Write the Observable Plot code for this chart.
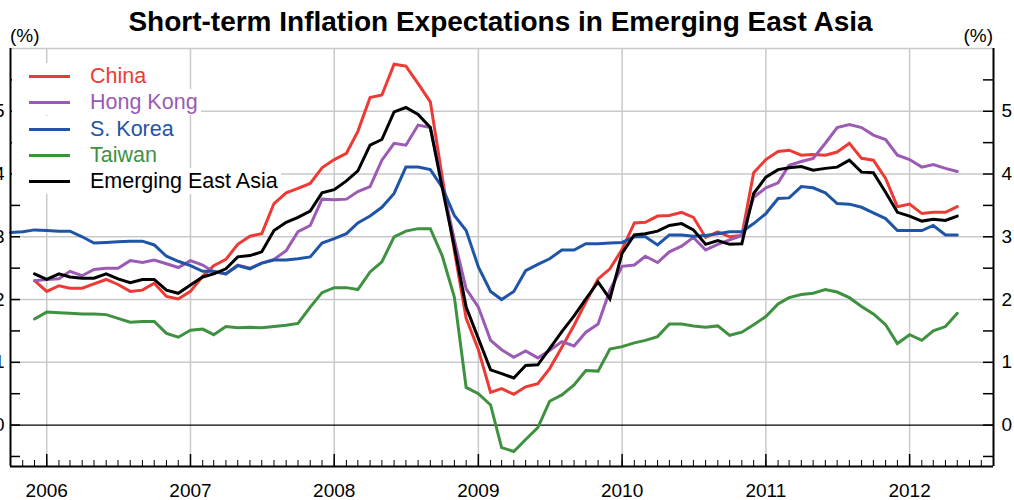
<!DOCTYPE html>
<html><head><meta charset="utf-8">
<script src="https://cdn.jsdelivr.net/npm/d3@7"></script>
<script src="https://cdn.jsdelivr.net/npm/@observablehq/plot@0.6"></script>
<style>
body{margin:0;background:#fff;font-family:"Liberation Sans",Arial,sans-serif;}
#chart{position:relative;width:1014px;height:500px;overflow:hidden;background:#fff}
#head{position:relative;height:40px}
#title{position:absolute;left:0;top:8px;width:1001px;text-align:center;font-weight:bold;font-size:28px;line-height:28px;color:#000;white-space:nowrap}
.unit{position:absolute;top:26px;font-size:19px;line-height:19px;color:#000}
.row{position:absolute;left:12px;height:26px;background:#fff;display:flex;align-items:center;font-size:21.5px;line-height:26px;padding-right:3px;white-space:nowrap}
.row .sw{width:41px;height:3px;margin-left:17px;margin-right:20px}
</style>
</head><body>
<div id="chart">
  <div id="head">
    <div id="title">Short-term Inflation Expectations in Emerging East Asia</div>
    <span class="unit" style="left:10px">(%)</span>
    <span class="unit" style="right:21px">(%)</span>
  </div>
  <div id="plot"></div>
  <div id="legend"></div>
</div>
<script>
// ---- Data (monthly, first-of-month) ----
// China, Hong Kong, Taiwan, Emerging East Asia: Dec 2005 – May 2012
const startMain = "2005-12";
// S. Korea: Oct 2005 – May 2012
const startKorea = "2005-10";

const china = [2.30,2.13,2.22,2.18,2.18,2.25,2.32,2.24,2.13,2.15,2.26,2.05,2.01,2.13,2.37,2.54,2.64,2.88,3.01,3.05,
  3.53,3.70,3.77,3.85,4.10,4.23,4.33,4.68,5.22,5.26,5.75,5.72,5.44,5.15,3.96,2.78,1.70,1.20,0.52,0.58,
  0.49,0.61,0.66,0.90,1.24,1.59,1.96,2.33,2.49,2.80,3.22,3.23,3.33,3.34,3.39,3.31,2.99,3.08,3.00,3.02,
  4.02,4.23,4.36,4.38,4.30,4.31,4.30,4.35,4.49,4.25,4.22,3.93,3.48,3.52,3.37,3.39,3.39,3.48];

const hongKong = [2.30,2.32,2.33,2.45,2.38,2.48,2.50,2.50,2.62,2.59,2.63,2.57,2.51,2.62,2.55,2.44,2.41,2.55,2.50,2.58,
  2.64,2.78,3.08,3.18,3.60,3.59,3.60,3.72,3.80,4.22,4.49,4.46,4.78,4.74,3.85,2.95,2.17,1.88,1.35,1.20,
  1.08,1.18,1.07,1.19,1.33,1.26,1.48,1.61,2.15,2.53,2.55,2.69,2.59,2.76,2.85,2.99,2.79,2.88,2.95,3.02,
  3.63,3.78,3.86,4.14,4.20,4.25,4.49,4.74,4.79,4.74,4.62,4.55,4.30,4.23,4.11,4.15,4.09,4.04];

const sKorea = [3.07,3.08,
  3.11,3.10,3.09,3.09,3.00,2.90,2.91,2.92,2.93,2.93,2.87,2.69,2.61,2.54,2.45,2.45,2.41,2.54,2.49,2.58,
  2.63,2.63,2.65,2.68,2.90,2.97,3.05,3.22,3.33,3.47,3.69,4.11,4.11,4.07,3.79,3.34,3.10,2.52,2.13,2.00,
  2.13,2.46,2.56,2.65,2.79,2.79,2.89,2.89,2.90,2.91,3.00,3.00,2.87,3.03,3.03,3.01,3.02,3.05,3.08,3.08,
  3.21,3.37,3.61,3.62,3.80,3.78,3.70,3.53,3.52,3.47,3.38,3.29,3.10,3.10,3.10,3.18,3.03,3.03];

const taiwan = [1.69,1.80,1.79,1.78,1.77,1.77,1.76,1.70,1.64,1.65,1.65,1.46,1.40,1.51,1.53,1.44,1.57,1.55,1.56,1.55,
  1.57,1.59,1.62,1.88,2.11,2.19,2.19,2.16,2.44,2.60,3.00,3.09,3.13,3.13,2.70,2.04,0.60,0.50,0.32,-0.36,
  -0.42,-0.23,-0.04,0.38,0.48,0.64,0.87,0.86,1.21,1.25,1.31,1.35,1.41,1.61,1.61,1.58,1.56,1.58,1.43,1.48,
  1.60,1.73,1.93,2.03,2.08,2.10,2.16,2.12,2.03,1.89,1.77,1.60,1.30,1.44,1.35,1.50,1.57,1.78];

const eastAsia = [2.41,2.32,2.41,2.36,2.34,2.34,2.41,2.33,2.27,2.32,2.32,2.15,2.10,2.23,2.36,2.41,2.49,2.68,2.70,2.76,
  3.10,3.23,3.31,3.41,3.70,3.75,3.89,4.05,4.46,4.55,4.99,5.06,4.95,4.74,3.79,2.84,1.88,1.38,0.88,0.82,
  0.75,0.95,0.96,1.22,1.49,1.74,2.01,2.28,2.01,2.74,3.03,3.05,3.09,3.18,3.21,3.11,2.88,2.94,2.88,2.89,
  3.69,3.95,4.07,4.10,4.12,4.06,4.09,4.11,4.22,4.03,4.02,3.71,3.39,3.33,3.25,3.28,3.26,3.33];

const seriesNames = ["China","Hong Kong","S. Korea","Taiwan","Emerging East Asia"];
const seriesColors = ["#EE3A35","#9B5AB4","#1F55A6","#3E913F","#000000"];
const yearLabels = [2006,2007,2008,2009,2010,2011,2012];
const yTickLabels = [0,1,2,3,4,5];

// ---- Build table ----
const parseMonth = d3.utcParse("%Y-%m");
function toRows(values, start, name) {
  const s = parseMonth(start);
  return values.map((v, i) => ({date: d3.utcMonth.offset(s, i), value: v, series: name}));
}
const rows = [
  ...toRows(china, startMain, "China"),
  ...toRows(hongKong, startMain, "Hong Kong"),
  ...toRows(sKorea, startKorea, "S. Korea"),
  ...toRows(taiwan, startMain, "Taiwan"),
  ...toRows(eastAsia, startMain, "Emerging East Asia")
];

const xMin = new Date(Date.UTC(2005, 9, 1));
const xMax = new Date(Date.UTC(2012, 7, 1));
const yMin = -0.66, yMax = 6;
const W = 1014, H = 460, mT = 8, mB = 34, mL = 10, mR = 21;
const fw = W - mL - mR, fh = H - mT - mB;

const yearDates = yearLabels.map(y => new Date(Date.UTC(y, 0, 1)));
const monthDates = d3.utcMonth.range(xMin, d3.utcMonth.offset(xMax, 1));
const halfTicks = d3.range(-0.5, 5.51, 0.5);
const font = '"Liberation Sans", Arial, sans-serif';

const chart = Plot.plot({
  width: W, height: H,
  marginTop: mT, marginBottom: mB, marginLeft: mL, marginRight: mR,
  x: {type: "utc", domain: [xMin, xMax], axis: null},
  y: {domain: [yMin, yMax], axis: null},
  color: {domain: seriesNames, range: seriesColors},
  style: {fontFamily: font, fontSize: "19px", color: "#000", background: "transparent", overflow: "visible"},
  marks: [
    Plot.ruleY([1,2,3,4,5,6], {stroke: "#c9c9c9", strokeWidth: 1.5}),
    Plot.ruleX(yearDates, {stroke: "#c9c9c9", strokeWidth: 1.5}),
    Plot.ruleY([0], {stroke: "#000", strokeWidth: 1.2}),
    Plot.line(rows, {x: "date", y: "value", z: "series", stroke: "series",
      strokeWidth: 3, strokeLinejoin: "miter", strokeMiterlimit: 3, curve: "linear"}),
    // axis lines
    Plot.ruleX([xMin, xMax], {stroke: "#000", strokeWidth: 2}),
    Plot.ruleY([yMin], {stroke: "#000", strokeWidth: 2}),
    // inward ticks
    Plot.tickY(halfTicks, {y: d => d, insetRight: fw - 10, stroke: "#000", strokeWidth: 1.5}),
    Plot.tickY(halfTicks, {y: d => d, insetLeft: fw - 10, stroke: "#000", strokeWidth: 1.5}),
    Plot.tickX(monthDates, {x: d => d, insetTop: fh - 6, stroke: "#000", strokeWidth: 1}),
    Plot.tickX(yearDates, {x: d => d, insetTop: fh - 12, stroke: "#000", strokeWidth: 1.5}),
    // tick labels (left ones sit at the very edge, as in the reference)
    Plot.text(yTickLabels, {y: d => d, text: d => String(d), frameAnchor: "left", textAnchor: "end", dx: -6, fontSize: 19}),
    Plot.text(yTickLabels, {y: d => d, text: d => String(d), frameAnchor: "right", textAnchor: "start", dx: 8, fontSize: 19}),
    Plot.text(yearDates, {x: d => d, text: d => String(d.getUTCFullYear()), frameAnchor: "bottom", lineAnchor: "top", dy: 17, fontSize: 19})
  ]
});
document.getElementById("plot").appendChild(chart);

// ---- Legend ----
const legendY = [76, 102, 129, 155, 181];
const legend = document.getElementById("legend");
seriesNames.forEach((name, i) => {
  const row = document.createElement("div");
  row.className = "row";
  row.style.top = (legendY[i] - 13) + "px";
  const sw = document.createElement("span");
  sw.className = "sw";
  sw.style.background = seriesColors[i];
  const t = document.createElement("span");
  t.textContent = name;
  t.style.color = seriesColors[i];
  row.appendChild(sw); row.appendChild(t);
  legend.appendChild(row);
});
</script>
</body></html>
